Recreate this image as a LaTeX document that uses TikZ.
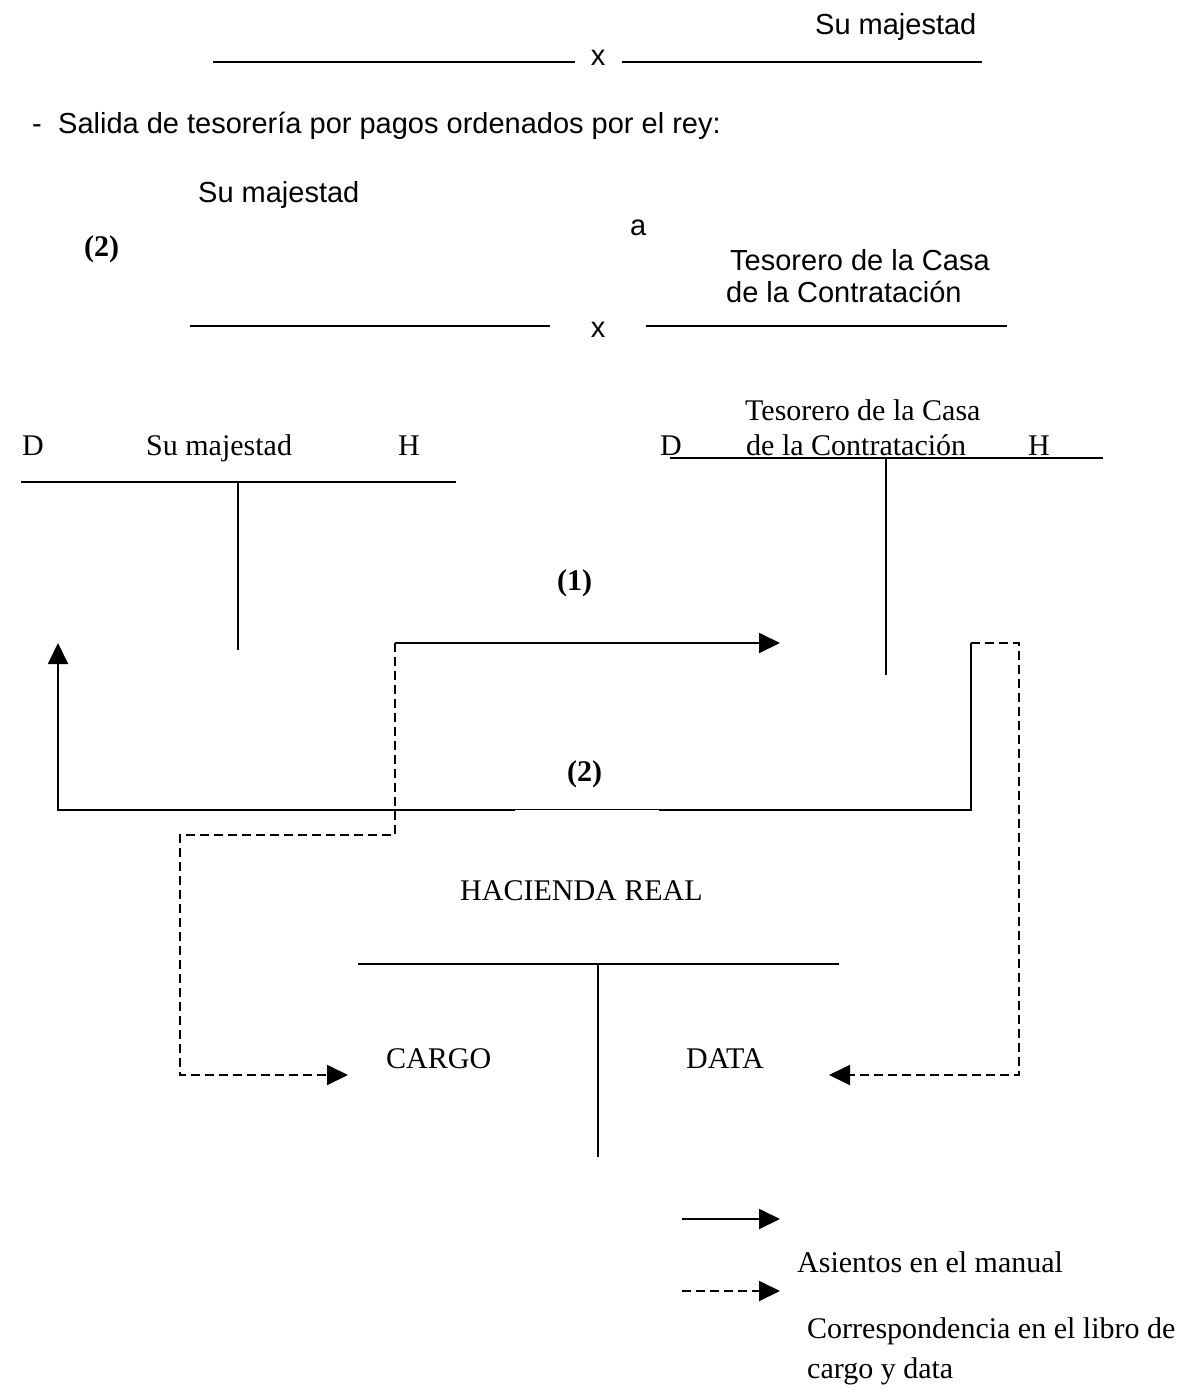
\documentclass[tikz,border=0pt]{standalone}
\usepackage{fontspec}
\setmainfont{Liberation Serif}
\newfontfamily\arialf{Liberation Sans}
\usetikzlibrary{arrows.meta}
\tikzset{
  sf/.style={font=\arialf\fontsize{29}{32}\selectfont, inner sep=0pt, anchor=base west},
  rm/.style={font=\fontsize{30}{32}\selectfont, inner sep=0pt, anchor=base west},
  bflab/.style={font=\bfseries\fontsize{30}{32}\selectfont, inner sep=0pt, anchor=base west},
  rule/.style={line width=1.8pt},
  flow/.style={line width=1.8pt, -{Triangle[length=21pt,width=20pt]}},
  corr/.style={line width=1.8pt, dash pattern=on 9pt off 5pt},
  corrarrow/.style={corr, -{Triangle[length=21pt,width=20pt]}},
}
\begin{document}
\begin{tikzpicture}[x=1pt,y=-1pt]
\useasboundingbox[fill=white] (0,0) rectangle (1192,1396);

% ---- top journal entry
\node[sf] (sm0) at (815,35) {Su majestad};
\coordinate (l1a) at (213,62); \coordinate (l1b) at (575,62);
\node[sf,anchor=base] (x1) at (598,66) {x};
\coordinate (r1a) at (622,62); \coordinate (r1b) at (982,62);
\draw[rule] (l1a) -- (l1b);
\draw[rule] (r1a) -- (r1b);

\node[sf] (dash) at (32,134) {-};
\node[sf] (salida) at (58,134) {Salida de tesorería por pagos ordenados por el rey:};

% ---- second journal entry
\node[sf] (sm1) at (198,203) {Su majestad};
\node[sf] (aa) at (630,236) {a};
\node[bflab] (n2a) at (84,257) {(2)};
\node[sf] (tes1) at (730,271) {Tesorero de la Casa};
\node[sf] (tes2) at (726,302) {de la Contratación};
\coordinate (l2a) at (190,326); \coordinate (l2b) at (550,326);
\node[sf,anchor=base] (x2) at (598,337) {x};
\coordinate (r2a) at (646,326); \coordinate (r2b) at (1007,326);
\draw[rule] (l2a) -- (l2b);
\draw[rule] (r2a) -- (r2b);

% ---- T account: Su majestad
\node[rm] (dL) at (22,455) {D};
\node[rm] (smT) at (146,455) {Su majestad};
\node[rm] (hL) at (398,455) {H};
\coordinate (tLa) at (21,482); \coordinate (tLb) at (456,482);
\coordinate (tLtop) at (238,482); \coordinate (tLbot) at (238,650);
\draw[rule] (tLa) -- (tLb);
\draw[rule] (tLtop) -- (tLbot);

% ---- T account: Tesorero
\node[rm] (tesT1) at (745,420) {Tesorero de la Casa};
\node[rm] (dR) at (660,455) {D};
\node[rm] (tesT2) at (746,455) {de la Contratación};
\node[rm] (hR) at (1028,455) {H};
\coordinate (tRa) at (670,458); \coordinate (tRb) at (1103,458);
\coordinate (tRtop) at (886,458); \coordinate (tRbot) at (886,675);
\draw[rule] (tRa) -- (tRb);
\draw[rule] (tRtop) -- (tRbot);

% ---- flows
\node[bflab] (n1) at (557,590) {(1)};
\node[bflab] (n2b) at (567,781) {(2)};

\coordinate (c1) at (395,643);
\coordinate (c1end) at (780,643);
\draw[flow] (c1) -- (c1end);

\coordinate (p1) at (58,810);
\coordinate (p1end) at (58,643);
\coordinate (p2) at (971,810);
\coordinate (p3) at (971,643);
\draw[flow] (p3) -- (p2) -- (p1) -- (p1end);
\fill[white] (515,810.4) rectangle (659,813);

% dashed correspondences
\coordinate (d1) at (395,835);
\coordinate (d2) at (180,835);
\coordinate (d3) at (180,1075);
\coordinate (d3end) at (348,1075);
\draw[corrarrow] (c1) -- (d1) -- (d2) -- (d3) -- (d3end);

\coordinate (e1) at (1019,643);
\coordinate (e2) at (1019,1075);
\coordinate (e2end) at (829,1075);
\draw[corrarrow] (p3) -- (e1) -- (e2) -- (e2end);

% ---- Hacienda Real
\node[rm] (hac) at (460,900) {HACIENDA REAL};
\coordinate (hA) at (358,964); \coordinate (hB) at (839,964);
\coordinate (hTop) at (598,964); \coordinate (hBot) at (598,1157);
\draw[rule] (hA) -- (hB);
\draw[rule] (hTop) -- (hBot);
\node[rm] (cargo) at (386,1068) {CARGO};
\node[rm] (data) at (686,1068) {DATA};

% ---- legend
\coordinate (lg1a) at (682,1219); \coordinate (lg1b) at (780,1219);
\draw[flow] (lg1a) -- (lg1b);
\node[rm] (asi) at (797,1272) {Asientos en el manual};
\coordinate (lg2a) at (682,1291); \coordinate (lg2b) at (780,1291);
\draw[corrarrow] (lg2a) -- (lg2b);
\node[rm] (corr1) at (807,1338) {Correspondencia en el libro de};
\node[rm] (corr2) at (807,1378) {cargo y data};
\end{tikzpicture}
\end{document}
